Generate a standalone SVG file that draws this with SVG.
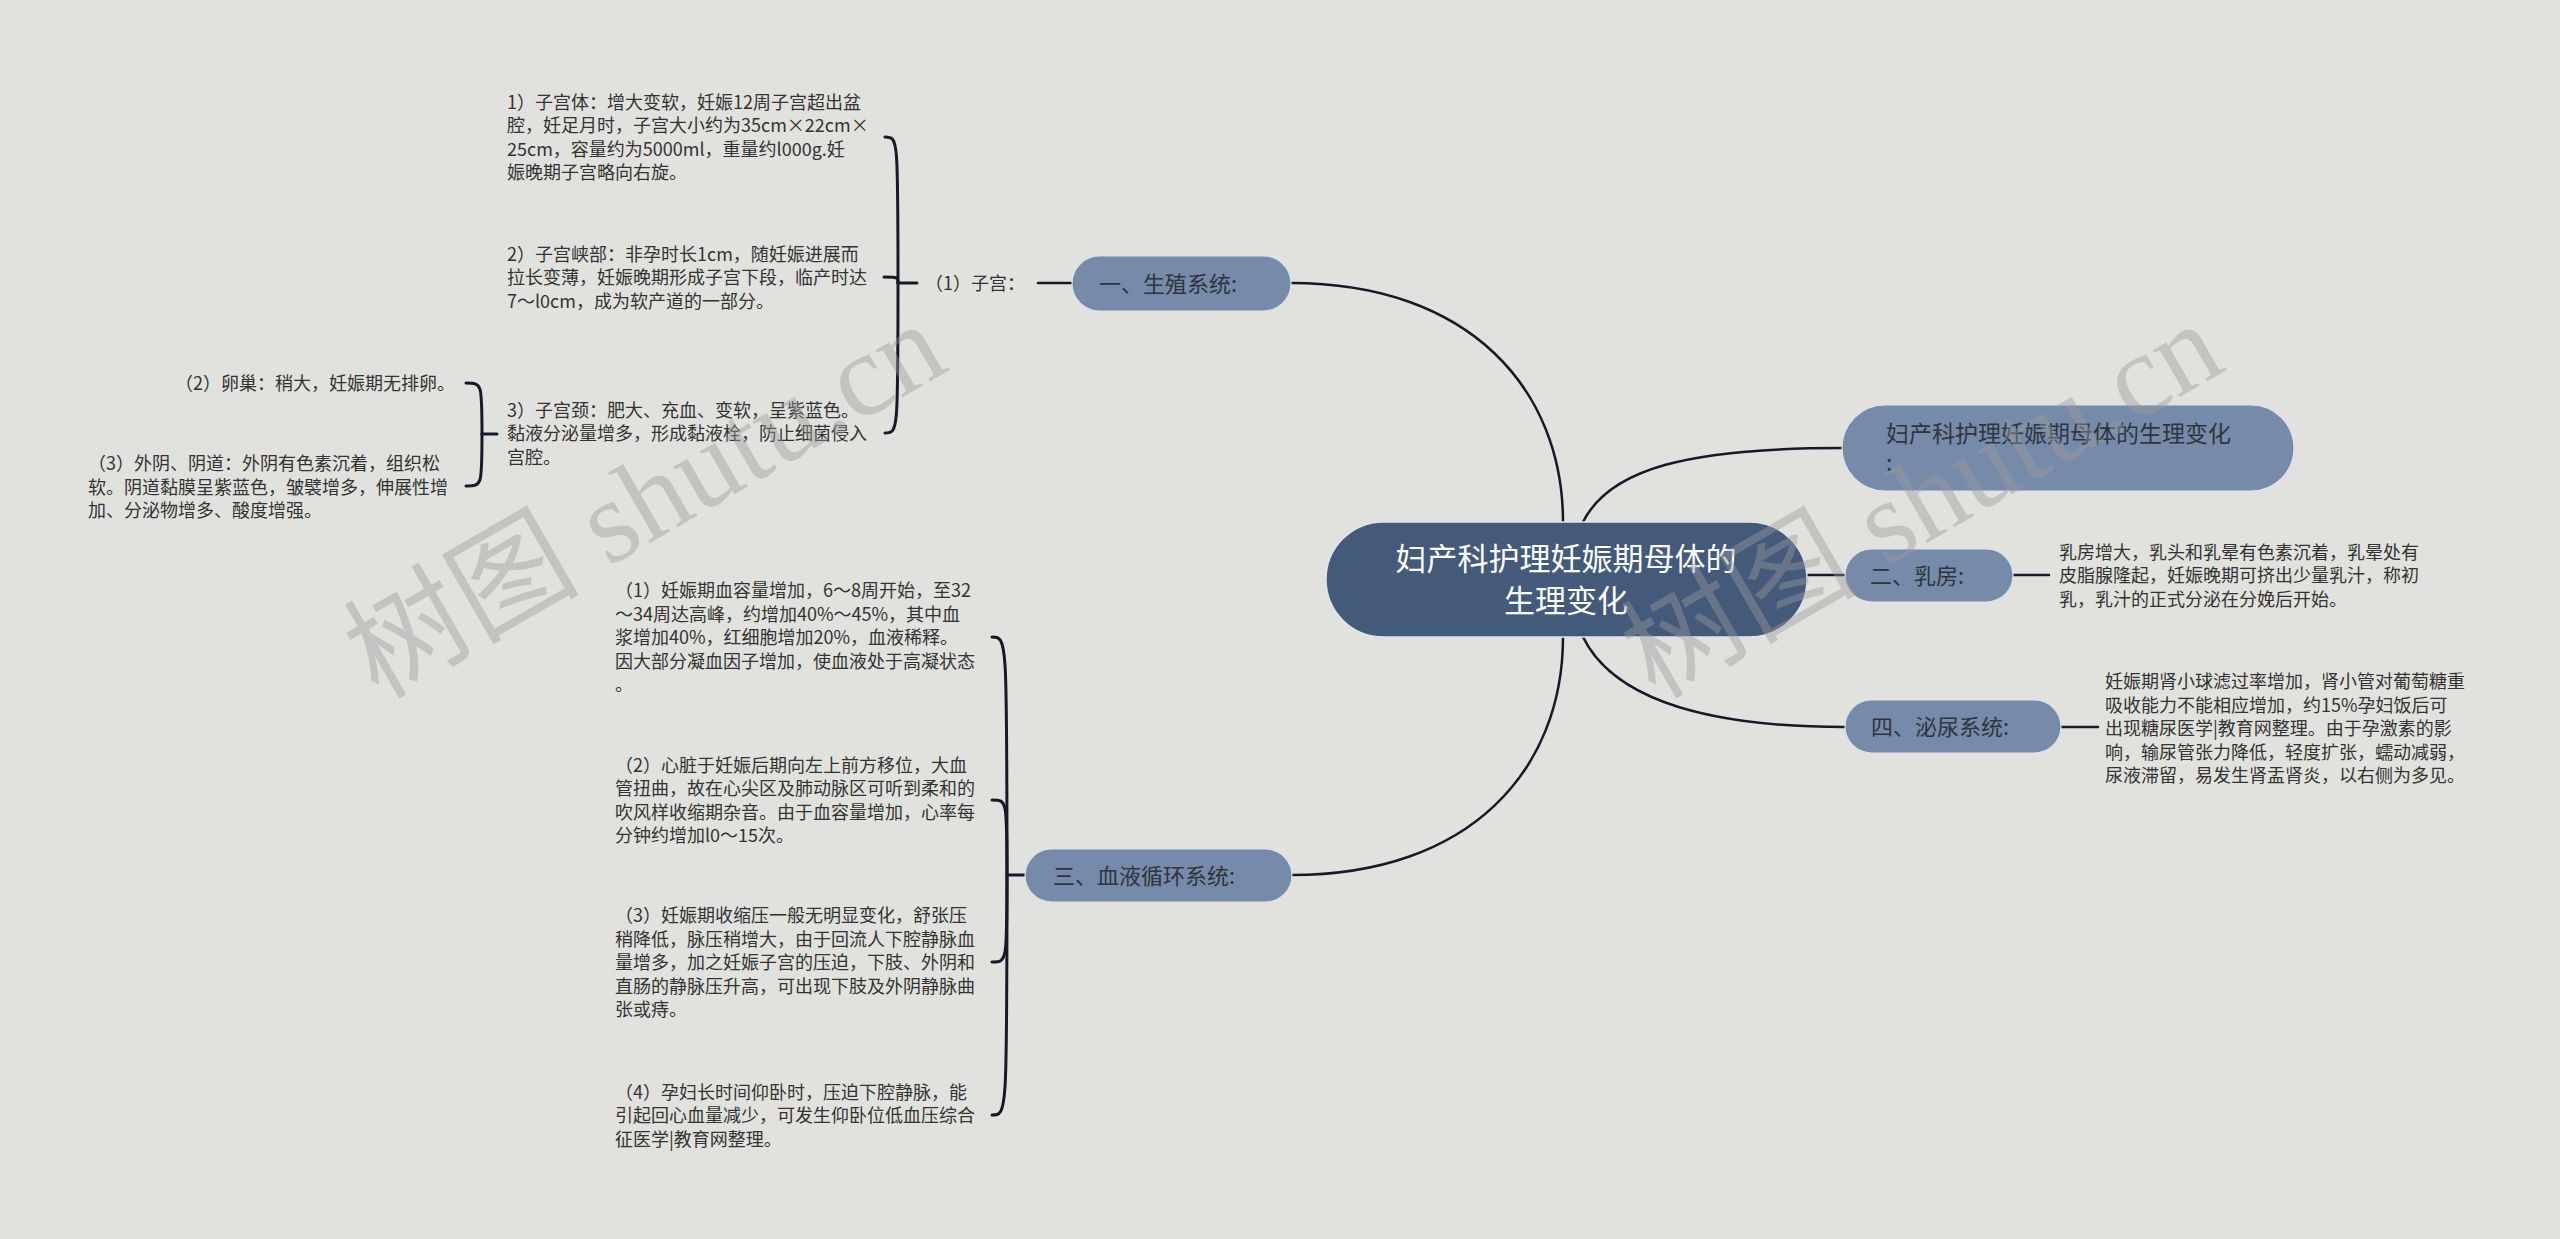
<svg xmlns="http://www.w3.org/2000/svg" width="2560" height="1239" viewBox="0 0 2560 1239">
<style>
text{font-family:"Noto Sans CJK SC","Noto Sans",sans-serif}
.root{fill:#435a7a;stroke:#dfe4ec;stroke-width:1.5}
.main{fill:#768ba9;stroke:#dce2ea;stroke-width:1.2}
.troot{fill:#ffffff;font-size:31px}
.tmain{fill:#2f343d;font-size:22px}
.tleaf{fill:#333333;font-size:18px}
.link{fill:none;stroke:#141a28;stroke-width:2.5;stroke-linecap:round}
.brace{fill:none;stroke:#141a28;stroke-width:3;stroke-linecap:round}
.wm{font-family:"Liberation Serif","Noto Sans CJK SC",serif;font-size:118px;fill:#9c9c9c;opacity:0.42}
</style>
<rect width="2560" height="1239" fill="#e1e2dd"/>

<g id="connectors">
  <path class="link" d="M1563,522 C1563,390 1470,283 1291,283"/>
  <path class="link" d="M1583,522 C1610,468 1690,448 1842,448"/>
  <path class="link" d="M1807,575 H1845"/>
  <path class="link" d="M1583,637 C1610,692 1690,727 1845,727"/>
  <path class="link" d="M1563,637 C1563,770 1470,875 1292,875"/>
  <path class="link" d="M2013,575 H2049"/>
  <path class="link" d="M2061,727 H2098"/>
  <path class="link" d="M1038,283 H1072"/>
  <path class="brace" d="M917,283 H898"/>
  <path class="brace" d="M898,283 C898,137 898,137 885,137"/>
  <path class="brace" d="M898,283 C898,277 898,277 884,277"/>
  <path class="brace" d="M898,283 C898,433 898,433 885,433"/>
  <path class="brace" d="M497,434 H482"/>
  <path class="brace" d="M482,434 C482,383 482,383 466,383"/>
  <path class="brace" d="M482,434 C482,486 482,486 466,486"/>
  <path class="brace" d="M1025,875 H1007"/>
  <path class="brace" d="M1007,875 C1007,637 1007,637 992,637"/>
  <path class="brace" d="M1007,875 C1007,800 1007,800 992,800"/>
  <path class="brace" d="M1007,875 C1007,962 1007,962 992,962"/>
  <path class="brace" d="M1007,875 C1007,1115 1007,1115 992,1115"/>
</g>

<g id="root">
  <rect class="root" x="1326" y="522" width="481" height="115" rx="57.5"/>
  <text class="troot" text-anchor="middle"><tspan x="1566" y="570">妇产科护理妊娠期母体的</tspan><tspan x="1566" y="612">生理变化</tspan></text>
</g>

<g id="title-node">
  <rect class="main" x="1842" y="405" width="452" height="86" rx="43"/>
  <text class="tmain" style="font-size:23px"><tspan x="1886" y="442">妇产科护理妊娠期母体的生理变化</tspan><tspan x="1886" y="471">:</tspan></text>
</g>

<g id="breast">
  <rect class="main" x="1845" y="549" width="168" height="53" rx="26.5"/>
  <text class="tmain" x="1870" y="584">二、乳房:</text>
</g>
<g id="breast-text">
  <text class="tleaf"><tspan x="2059" y="558.5">乳房增大，乳头和乳晕有色素沉着，乳晕处有</tspan><tspan x="2059" y="582">皮脂腺隆起，妊娠晚期可挤出少量乳汁，称初</tspan><tspan x="2059" y="605.5">乳，乳汁的正式分泌在分娩后开始。</tspan></text>
</g>

<g id="urinary">
  <rect class="main" x="1845" y="700" width="216" height="53" rx="26.5"/>
  <text class="tmain" x="1871" y="735">四、泌尿系统:</text>
</g>
<g id="urinary-text">
  <text class="tleaf"><tspan x="2105" y="688">妊娠期肾小球滤过率增加，肾小管对葡萄糖重</tspan><tspan x="2105" y="711.5">吸收能力不能相应增加，约15%孕妇饭后可</tspan><tspan x="2105" y="735">出现糖尿医学|教育网整理。由于孕激素的影</tspan><tspan x="2105" y="758.5">响，输尿管张力降低，轻度扩张，蠕动减弱，</tspan><tspan x="2105" y="782">尿液滞留，易发生肾盂肾炎，以右侧为多见。</tspan></text>
</g>

<g id="reproductive">
  <rect class="main" x="1072" y="256" width="219" height="55" rx="27.5"/>
  <text class="tmain" x="1099" y="292">一、生殖系统:</text>
</g>
<g id="uterus">
  <text class="tleaf" x="925" y="290">（1）子宫：</text>
</g>
<g id="uterus-body">
  <text class="tleaf"><tspan x="507" y="108.75">1）子宫体：增大变软，妊娠12周子宫超出盆</tspan><tspan x="507" y="132.25">腔，妊足月时，子宫大小约为35cm×22cm×</tspan><tspan x="507" y="155.75">25cm，容量约为5000ml，重量约l000g.妊</tspan><tspan x="507" y="179.25">娠晚期子宫略向右旋。</tspan></text>
</g>
<g id="uterus-isthmus">
  <text class="tleaf"><tspan x="507" y="260.5">2）子宫峡部：非孕时长1cm，随妊娠进展而</tspan><tspan x="507" y="284">拉长变薄，妊娠晚期形成子宫下段，临产时达</tspan><tspan x="507" y="307.5">7～l0cm，成为软产道的一部分。</tspan></text>
</g>
<g id="cervix">
  <text class="tleaf"><tspan x="507" y="416.5">3）子宫颈：肥大、充血、变软，呈紫蓝色。</tspan><tspan x="507" y="440">黏液分泌量增多，形成黏液栓，防止细菌侵入</tspan><tspan x="507" y="463.5">宫腔。</tspan></text>
</g>
<g id="ovary">
  <text class="tleaf" x="455" y="390" text-anchor="end">（2）卵巢：稍大，妊娠期无排卵。</text>
</g>
<g id="vulva">
  <text class="tleaf"><tspan x="88" y="470">（3）外阴、阴道：外阴有色素沉着，组织松</tspan><tspan x="88" y="493.5">软。阴道黏膜呈紫蓝色，皱襞增多，伸展性增</tspan><tspan x="88" y="517">加、分泌物增多、酸度增强。</tspan></text>
</g>

<g id="blood">
  <rect class="main" x="1025" y="849" width="267" height="53" rx="26.5"/>
  <text class="tmain" x="1053" y="884">三、血液循环系统:</text>
</g>
<g id="blood-1">
  <text class="tleaf"><tspan x="615" y="597">（1）妊娠期血容量增加，6～8周开始，至32</tspan><tspan x="615" y="620.5">～34周达高峰，约增加40%～45%，其中血</tspan><tspan x="615" y="644">浆增加40%，红细胞增加20%，血液稀释。</tspan><tspan x="615" y="667.5">因大部分凝血因子增加，使血液处于高凝状态</tspan><tspan x="615" y="691">。</tspan></text>
</g>
<g id="blood-2">
  <text class="tleaf"><tspan x="615" y="771.75">（2）心脏于妊娠后期向左上前方移位，大血</tspan><tspan x="615" y="795.25">管扭曲，故在心尖区及肺动脉区可听到柔和的</tspan><tspan x="615" y="818.75">吹风样收缩期杂音。由于血容量增加，心率每</tspan><tspan x="615" y="842.25">分钟约增加l0～15次。</tspan></text>
</g>
<g id="blood-3">
  <text class="tleaf"><tspan x="615" y="922">（3）妊娠期收缩压一般无明显变化，舒张压</tspan><tspan x="615" y="945.5">稍降低，脉压稍增大，由于回流人下腔静脉血</tspan><tspan x="615" y="969">量增多，加之妊娠子宫的压迫，下肢、外阴和</tspan><tspan x="615" y="992.5">直肠的静脉压升高，可出现下肢及外阴静脉曲</tspan><tspan x="615" y="1016">张或痔。</tspan></text>
</g>
<g id="blood-4">
  <text class="tleaf"><tspan x="615" y="1098.5">（4）孕妇长时间仰卧时，压迫下腔静脉，能</tspan><tspan x="615" y="1122">引起回心血量减少，可发生仰卧位低血压综合</tspan><tspan x="615" y="1145.5">征医学|教育网整理。</tspan></text>
</g>

<g id="watermarks">
  <text class="wm" transform="translate(378,700) rotate(-30)">树图 shutu.cn</text>
  <text class="wm" transform="translate(1655,700) rotate(-30)">树图 shutu.cn</text>
</g>
</svg>
